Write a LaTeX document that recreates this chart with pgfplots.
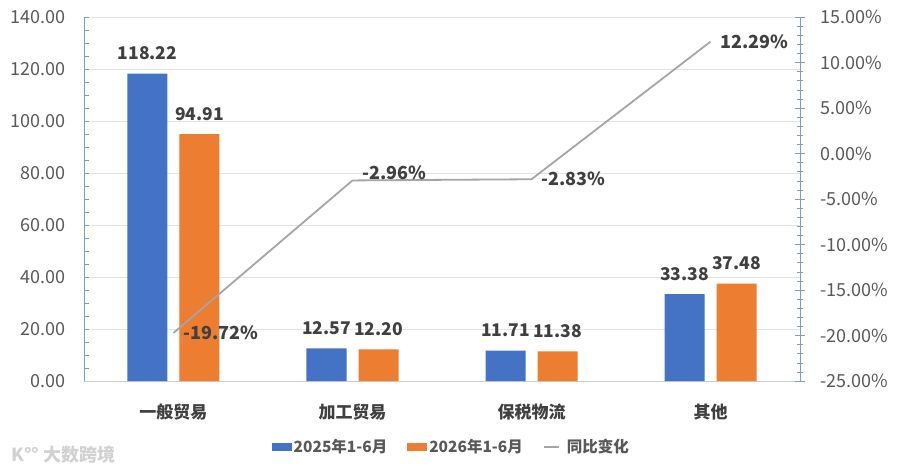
\documentclass[border=0pt]{standalone}
\usepackage{fontspec}
\setmainfont{Noto Sans CJK SC}
\usepackage{pgfplots}
\usepackage{pgfplotstable}
\pgfplotsset{compat=1.18}
\definecolor{cblue}{HTML}{4472C4}
\definecolor{corange}{HTML}{ED7D31}
\definecolor{cgray}{HTML}{A5A5A5}
\definecolor{axblue}{HTML}{7F9DB3}
\definecolor{gridc}{HTML}{E3E3E3}
\definecolor{txt}{HTML}{404040}
\definecolor{tickc}{HTML}{595959}
\pgfplotsset{/pgf/number format/assume math mode=true}

\pgfplotstableread{
x y25 y26
0 118.22 94.91
1 12.57 12.20
2 11.71 11.38
3 33.38 37.48
}\bartable
\pgfplotstableread{
x yoy dy
0 -19.72 0
1 -2.96 8
2 -2.83 0
3 12.29 0
}\linetable

\begin{document}
\begin{tikzpicture}
\begin{axis}[
  at={(0,0)}, anchor=south west,
  scale only axis, width=716pt, height=364pt,
  xmin=-0.5, xmax=3.5, ymin=0, ymax=140,
  axis x line*=bottom, axis y line*=left,
  x axis line style={draw=gridc!70!axblue, line width=0.8pt},
  y axis line style={draw=axblue, line width=0.8pt},
  xtick={0,1,2,3},
  xticklabels={一般贸易,加工贸易,保税物流,其他},
  x tick label style={font=\fontsize{17}{20}\selectfont\bfseries, text=txt, yshift=-14pt},
  major x tick style={draw=none},
  ytick={0,20,...,140}, minor y tick num=3,
  tick align=inside,
  major tick length=5pt, minor tick length=5pt,
  y tick style={draw=axblue, line width=0.6pt},
  yticklabel style={font=\fontsize{18}{20}\selectfont, text=tickc, xshift=-15pt,
    /pgf/number format/.cd, fixed, zerofill, precision=2},
  ymajorgrids, major grid style={draw=gridc, line width=0.8pt},
  ybar=12pt, bar width=40pt,
  nodes near coords={\pgfmathprintnumber[fixed,zerofill,precision=2]{\pgfplotspointmeta}},
  every node near coord/.append style={font=\fontsize{17.5}{20}\selectfont\bfseries, text=txt, yshift=10pt},
  legend style={draw=none, fill=none, at={(0.513,-0.181)}, anchor=center,
    legend columns=3, font=\fontsize{15.5}{18}\selectfont\bfseries, text=tickc,
    /tikz/every even column/.append style={column sep=18pt}},
  legend cell align=left,
]
\addplot[draw=none, fill=cblue,
  legend image code/.code={\fill[cblue] (0pt,-4pt) rectangle (20pt,4pt);}]
  table[x=x, y=y25]{\bartable};
\addlegendentry{2025年1-6月}
\addplot[draw=none, fill=corange,
  legend image code/.code={\fill[corange] (0pt,-4pt) rectangle (20pt,4pt);}]
  table[x=x, y=y26]{\bartable};
\addlegendentry{2026年1-6月}
\addlegendimage{legend image code/.code={\draw[cgray, line width=1.8pt] (0pt,0pt) -- (15pt,0pt); \path (21pt,0pt);}}
\addlegendentry{同比变化}
\end{axis}

\begin{axis}[
  at={(0,0)}, anchor=south west,
  scale only axis, width=716pt, height=364pt,
  xmin=-0.5, xmax=3.5, ymin=-25, ymax=15,
  axis x line=none, axis y line*=right,
  y axis line style={draw=axblue, line width=0.8pt},
  ytick={-25,-20,...,15}, minor y tick num=4,
  tick align=center, major tick length=10pt, minor tick length=6pt,
  y tick style={draw=axblue, line width=0.6pt},
  yticklabel={\pgfmathprintnumber[fixed,zerofill,precision=2]{\tick}\%},
  yticklabel style={font=\fontsize{18}{20}\selectfont, text=tickc, xshift=12pt},
]
\addplot[cgray, line width=1.8pt, mark=none,
  visualization depends on={\thisrow{dy} \as \dy},
  nodes near coords={\pgfmathprintnumber[fixed,zerofill,precision=2]{\pgfplotspointmeta}\%},
  every node near coord/.append style={anchor=west, xshift=6pt, yshift=\dy pt,
    font=\fontsize{18}{20}\selectfont\bfseries, text=txt}]
  table[x=x, y=yoy]{\linetable};
\end{axis}

\node[anchor=west, text=black!18, font=\fontsize{18}{20}\selectfont\bfseries] at (-76pt,-74pt) {K°° 大数跨境};
\pgfresetboundingbox
\path (-84pt,-88pt) rectangle (816pt,381pt);
\end{tikzpicture}
\end{document}
